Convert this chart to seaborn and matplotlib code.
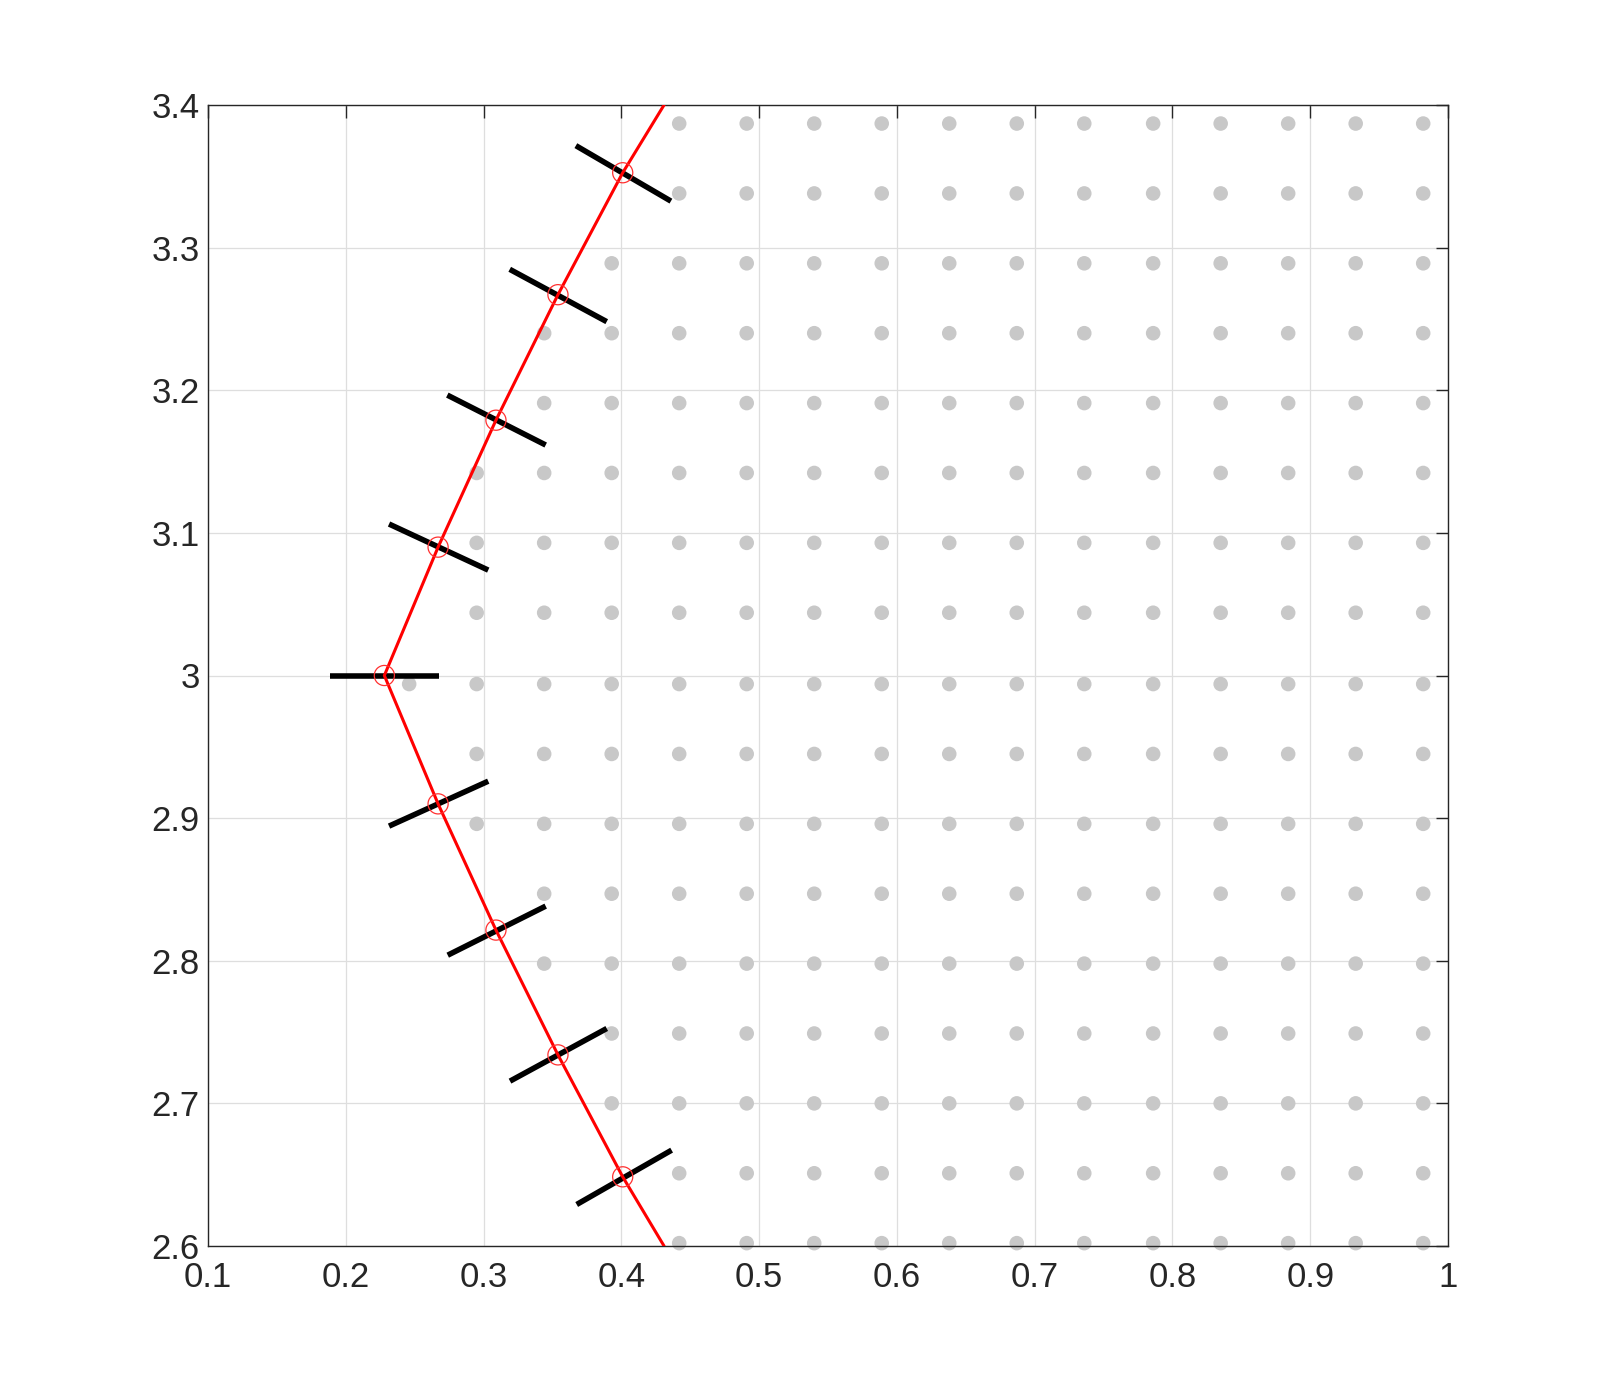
import matplotlib

matplotlib.use("Agg")
import matplotlib.pyplot as plt
import numpy as np
import pandas as pd
import seaborn as sns

# grid of admissible points (gray dots)
dot_x = [0.246, 0.295, 0.344, 0.393, 0.442, 0.491, 0.540, 0.589,
         0.638, 0.687, 0.736, 0.786, 0.835, 0.884, 0.933, 0.982]
dot_y = [3.387, 3.338, 3.289, 3.240, 3.191, 3.142, 3.093, 3.044, 2.994,
         2.945, 2.896, 2.847, 2.798, 2.749, 2.700, 2.651, 2.602]
# first x where dots appear in each row
row_start = [0.442, 0.442, 0.393, 0.344, 0.344, 0.295, 0.295, 0.295, 0.246,
             0.295, 0.295, 0.344, 0.344, 0.393, 0.393, 0.442, 0.442]

# boundary curve (red)
curve_x = [0.431, 0.401, 0.354, 0.309, 0.267, 0.228, 0.267, 0.309, 0.354, 0.401, 0.431]
curve_y = [3.400, 3.3525, 3.267, 3.179, 3.090, 3.000, 2.910, 2.8215, 2.734, 2.6485, 2.600]

# normal segments (black): start and end points
seg_x0 = [0.367, 0.319, 0.2737, 0.2314, 0.1885, 0.2314, 0.274, 0.3192, 0.3676]
seg_y0 = [3.3715, 3.2848, 3.1966, 3.1062, 3.000, 2.8944, 2.8039, 2.7156, 2.6291]
seg_x1 = [0.436, 0.3894, 0.3451, 0.3034, 0.2679, 0.3034, 0.3451, 0.3894, 0.4365]
seg_y1 = [3.3326, 3.2481, 3.1616, 3.0739, 3.000, 2.9259, 2.8383, 2.7525, 2.6672]

x_ticks = [0.1, 0.2, 0.3, 0.4, 0.5, 0.6, 0.7, 0.8, 0.9, 1]
x_labels = ["0.1", "0.2", "0.3", "0.4", "0.5", "0.6", "0.7", "0.8", "0.9", "1"]
y_ticks = [2.6, 2.7, 2.8, 2.9, 3.0, 3.1, 3.2, 3.3, 3.4]
y_labels = ["2.6", "2.7", "2.8", "2.9", "3", "3.1", "3.2", "3.3", "3.4"]

# 1. build tables
dots = pd.DataFrame(
    [(x, y) for y, s in zip(dot_y, row_start) for x in dot_x if x >= s - 1e-9],
    columns=["x", "y"],
)
curve = pd.DataFrame({"x": curve_x, "y": curve_y, "order": range(len(curve_x))})
segs = pd.DataFrame({
    "x": seg_x0 + seg_x1,
    "y": seg_y0 + seg_y1,
    "seg": list(range(len(seg_x0))) * 2,
})

# 2. plot
sns.set_style("white")
plt.rcParams["font.family"] = ["Liberation Sans", "DejaVu Sans"]
fig = plt.figure(figsize=(16, 14), dpi=100)
ax = fig.add_axes([0.13, 0.11, 0.775, 0.815])

sns.scatterplot(data=dots, x="x", y="y", ax=ax, s=110, color="#c8c8c8",
                edgecolor="none", linewidth=0, clip_on=False, zorder=2)
sns.lineplot(data=segs, x="x", y="y", units="seg", estimator=None, sort=False,
             ax=ax, color="black", linewidth=4.0, zorder=3,
             solid_capstyle="butt")
sns.lineplot(data=curve, x="x", y="y", sort=False, estimator=None, ax=ax,
             color="#ff0000", linewidth=2.2, zorder=4)
inner = curve.iloc[1:-1]
sns.scatterplot(data=inner, x="x", y="y", ax=ax, s=210, marker="o",
                facecolor="none", edgecolor="#ff3030", linewidth=0.9, zorder=5)

# 3. styling
ax.set_xlim(0.1, 1)
ax.set_ylim(2.6, 3.4)
ax.set_xticks(x_ticks)
ax.set_xticklabels(x_labels, fontsize=25, color="#262626")
ax.set_yticks(y_ticks)
ax.set_yticklabels(y_labels, fontsize=25, color="#262626")
ax.set_xlabel("")
ax.set_ylabel("")
ax.grid(True, color="#dedede", linewidth=0.9)
ax.set_axisbelow(True)
ax.tick_params(direction="in", length=9, width=1.0, color="#262626",
               top=True, right=True)
ax.tick_params(axis="x", pad=11)
ax.tick_params(axis="y", pad=6)
for sp in ax.spines.values():
    sp.set_visible(True)
    sp.set_color("#262626")
    sp.set_linewidth(1.0)

plt.savefig("out.png", dpi=100)
